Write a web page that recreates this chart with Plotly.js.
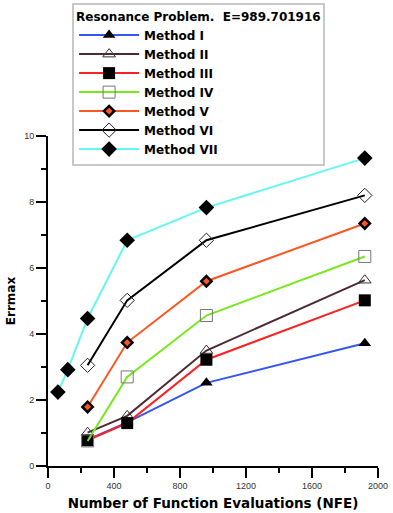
<!DOCTYPE html>
<html>
<head>
<meta charset="utf-8">
<script src="https://cdn.plot.ly/plotly-3.0.1.min.js"></script>
<style>
  html, body { margin: 0; padding: 0; background: #fff; }
  #chart { width: 393px; height: 513px; }
</style>
</head>
<body>
<div id="chart"></div>
<script>
// values
const methodNames = ['Method I', 'Method II', 'Method III', 'Method IV', 'Method V', 'Method VI', 'Method VII'];

const nfeMain = [240, 480, 960, 1920];
const nfeVII = [60, 120, 240, 480, 960, 1920];

const errI = [0.80, 1.32, 2.52, 3.72];
const errII = [1.01, 1.52, 3.50, 5.63];
const errIII = [0.78, 1.30, 3.22, 5.02];
const errIV = [0.76, 2.70, 4.56, 6.35];
const errV = [1.79, 3.74, 5.60, 7.35];
const errVI = [3.05, 5.02, 6.84, 8.20];
const errVII = [2.24, 2.92, 4.47, 6.84, 7.83, 9.33];

const legendTitle = 'Resonance Problem.  E=989.701916';

const FONT_BOLD = '"DejaVu Sans", sans-serif';
const FONT_TICK = '"Liberation Sans", Arial, sans-serif';

function buildTrace(name, x, y, lineColor, marker) {
    return {
        x,
        y,
        name,
        type: 'scatter',
        mode: 'lines+markers',
        line: { color: lineColor, width: 2 },
        marker,
        cliponaxis: false
    };
}

const traces = [
    buildTrace(methodNames[0], nfeMain, errI, '#3557f0',
        { symbol: 'triangle-up', size: 11, color: '#000' }),
    buildTrace(methodNames[1], nfeMain, errII, '#4e2a36',
        { symbol: 'triangle-up-open', size: 11, color: '#333', line: { width: 1 } }),
    buildTrace(methodNames[2], nfeMain, errIII, '#ff1f1f',
        { symbol: 'square', size: 12, color: '#000' }),
    buildTrace(methodNames[3], nfeMain, errIV, '#77e81a',
        { symbol: 'square-open', size: 12, color: '#777', line: { width: 1 } }),
    buildTrace(methodNames[4], nfeMain, errV, '#ff5522',
        { symbol: 'diamond', size: 8, color: '#ff5522', line: { color: '#000', width: 2.5 } }),
    buildTrace(methodNames[5], nfeMain, errVI, '#000000',
        { symbol: 'diamond-open', size: 11, color: '#222', line: { width: 1 } }),
    buildTrace(methodNames[6], nfeVII, errVII, '#66f5f5',
        { symbol: 'diamond', size: 12, color: '#000' })
];

const boldFont = (size) => ({ family: FONT_BOLD, size, color: '#000', weight: 'bold' });

function buildAxis(range, tickvals, minorStep, titleText, standoff) {
    return {
        range,
        tickvals,
        ticks: 'outside',
        ticklen: 10,
        tickwidth: 1.5,
        tickcolor: '#000',
        minor: { dtick: minorStep, ticklen: 5, tickwidth: 1.5, tickcolor: '#000', ticks: 'outside' },
        showgrid: false,
        zeroline: false,
        showline: true,
        linecolor: '#000',
        linewidth: 2,
        tickfont: { family: FONT_TICK, size: 9, color: '#333' },
        title: { text: titleText, standoff, font: boldFont(titleText.length > 10 ? 13.5 : 12) }
    };
}

const layout = {
    width: 393,
    height: 513,
    margin: { l: 48, r: 15, t: 136, b: 47, autoexpand: false },
    paper_bgcolor: '#fff',
    plot_bgcolor: '#fff',
    showlegend: true,
    legend: {
        x: 0.073,
        y: 1.403,
        xanchor: 'left',
        yanchor: 'top',
        bgcolor: '#fff',
        bordercolor: '#c8c8c8',
        borderwidth: 2,
        itemwidth: 60,
        tracegroupgap: 0,
        font: boldFont(12),
        title: { text: legendTitle, font: boldFont(12) }
    },
    xaxis: buildAxis([0, 2000], [0, 400, 800, 1200, 1600, 2000], 200, 'Number of Function Evaluations (NFE)', 9),
    yaxis: buildAxis([0, 10], [0, 2, 4, 6, 8, 10], 1, 'Errmax', 6)
};

Plotly.newPlot('chart', traces, layout, { displayModeBar: false, staticPlot: true });
</script>
</body>
</html>
